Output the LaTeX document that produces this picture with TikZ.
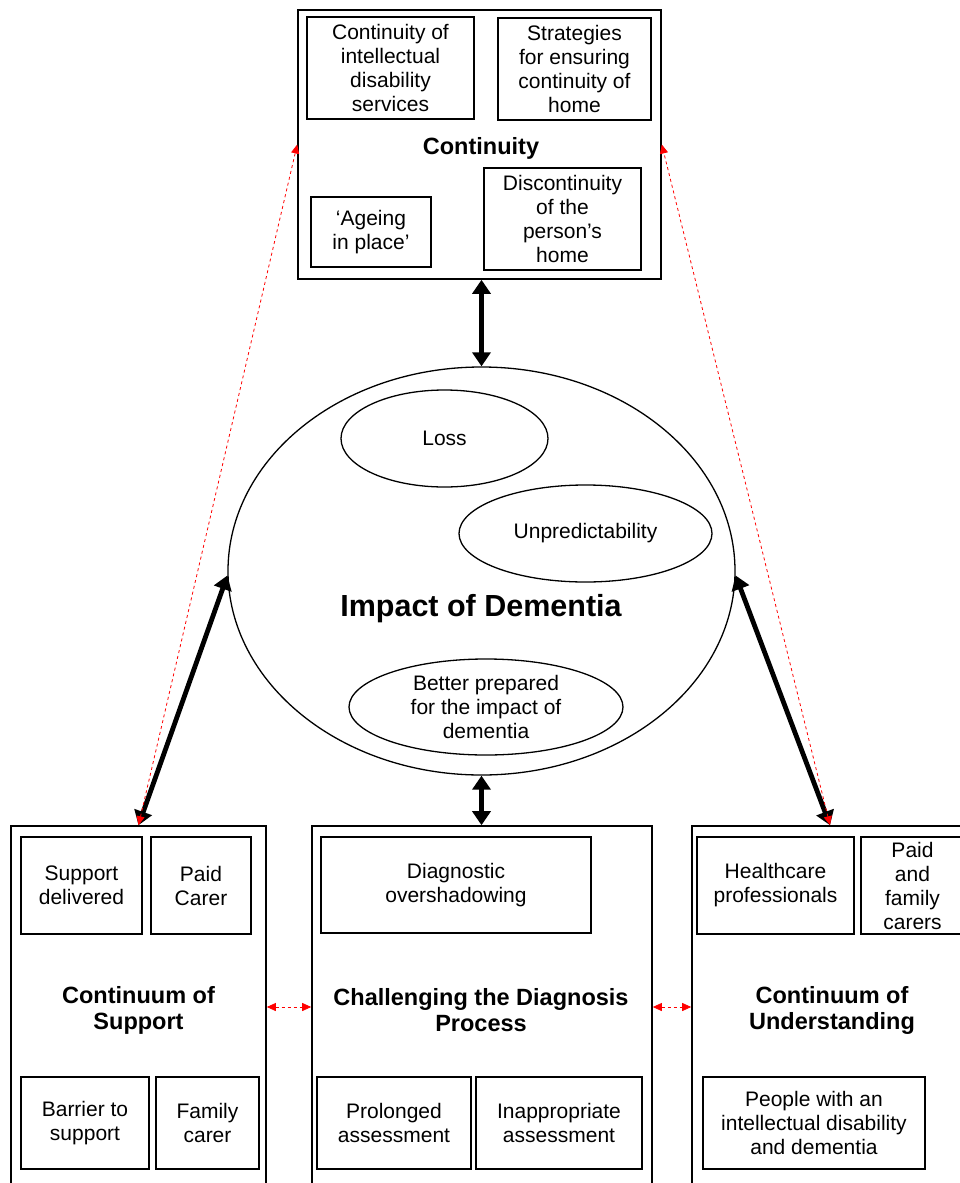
\documentclass[tikz,border=0pt]{standalone}
\usepackage{fontspec}
\setmainfont{Liberation Sans}
\usetikzlibrary{arrows.meta,shapes.geometric}
\begin{document}
\begin{tikzpicture}[x=1pt,y=-1pt,
  box/.style={draw,line width=1.4pt,inner sep=1pt,align=center,font=\fontsize{21}{24}\selectfont},
  bigbox/.style={draw,line width=1.6pt},
  ttl/.style={align=center,font=\fontsize{23.5}{26}\selectfont\bfseries,yshift=-3pt},
  oval/.style={draw,ellipse,line width=1.3pt,inner sep=0pt,align=center,font=\fontsize{21}{24}\selectfont},
  blk/.style={line width=4.8pt,{Triangle[length=14pt,width=18pt]}-{Triangle[length=14pt,width=18pt]}},
  reddash/.style={red,dashed,line width=0.8pt,{Triangle[length=9pt,width=8pt]}-{Triangle[length=9pt,width=8pt]}}
]
\useasboundingbox (0,0) rectangle (960,1183);
\clip (0,0) rectangle (960,1183);

% top box
\node[bigbox,minimum width=363pt,minimum height=269pt] (T) at (479.5,144.5) {};
\node[box,minimum width=167pt,minimum height=102pt] (t1) at (390.5,68) {Continuity of\\intellectual\\disability\\services};
\node[box,minimum width=153pt,minimum height=102pt] (t2) at (574.5,69) {Strategies\\for ensuring\\continuity of\\home};
\node[ttl] (tt) at (481,145) {Continuity};
\node[box,minimum width=120pt,minimum height=70pt] (t3) at (371,232) {‘Ageing\\in place’};
\node[box,minimum width=157pt,minimum height=102pt] (t4) at (562.5,219) {Discontinuity\\of the\\person’s\\home};

% central ellipse
\node[draw,ellipse,line width=1.3pt,minimum width=507pt,minimum height=408pt,inner sep=0pt] (I) at (481.5,571) {};
\node[oval,minimum width=207pt,minimum height=97pt] (e1) at (444.5,438.5) {Loss};
\node[oval,minimum width=253pt,minimum height=97pt] (e2) at (585.5,533.5) {Unpredictability};
\node[oval,minimum width=274pt,minimum height=96pt] (e3) at (486,707) {Better prepared\\for the impact of\\dementia};
\node[font=\fontsize{30.5}{33}\selectfont\bfseries] (it) at (481,609) {Impact of Dementia};

% left box
\node[bigbox,minimum width=255pt,minimum height=362pt] (L) at (138.5,1007) {};
\node[box,minimum width=121pt,minimum height=97pt] (l1) at (81.5,885.5) {Support\\delivered};
\node[box,minimum width=100pt,minimum height=97pt] (l2) at (201,885.5) {Paid\\Carer};
\node[ttl] (lt) at (138.5,1007) {Continuum of\\Support};
\node[box,minimum width=128pt,minimum height=92pt] (l3) at (85,1123) {Barrier to\\support};
\node[box,minimum width=103pt,minimum height=92pt] (l4) at (207.5,1123) {Family\\carer};

% middle box
\node[bigbox,minimum width=340pt,minimum height=362pt] (M) at (482,1007) {};
\node[box,minimum width=270pt,minimum height=96pt] (m1) at (456,885) {Diagnostic\\overshadowing};
\node[ttl] (mt) at (481,1007) {Challenging the Diagnosis\\Process};
\node[box,minimum width=154pt,minimum height=92pt] (m2) at (394,1123) {Prolonged\\assessment};
\node[box,minimum width=166pt,minimum height=92pt] (m3) at (559,1123) {Inappropriate\\assessment};

% right box
\node[bigbox,minimum width=276pt,minimum height=362pt] (R) at (830,1007) {};
\node[box,minimum width=157pt,minimum height=97pt] (r1) at (775.5,885.5) {Healthcare\\professionals};
\node[box,minimum width=103pt,minimum height=97pt] (r2) at (912.5,885.5) {Paid\\and\\family\\carers};
\node[ttl] (rt) at (832,1007) {Continuum of\\Understanding};
\node[box,minimum width=222pt,minimum height=92pt] (r3) at (814,1123) {People with an\\intellectual disability\\and dementia};

% connectors
\draw[blk] (I.north |- T.south) -- (I.north);
\draw[blk] (I.south) -- (I.south |- M.north);
\draw[blk] (I.181) -- (L.north);
\draw[blk] (I.359) -- (R.north);
\draw[reddash] (L.north) -- (T.west);
\draw[reddash] (R.north) -- (T.east);
\draw[reddash] (L.east) -- (M.west);
\draw[reddash] (M.east) -- (R.west);
\end{tikzpicture}
\end{document}
